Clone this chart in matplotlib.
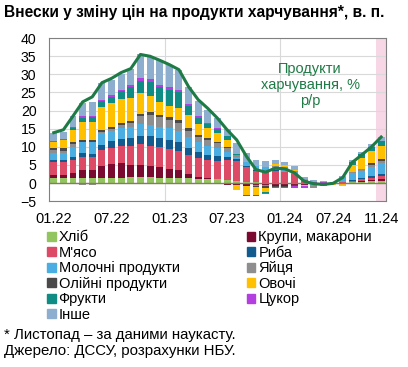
import numpy as np
import matplotlib
matplotlib.use("Agg")
import matplotlib.pyplot as plt
from matplotlib.patches import Patch

plt.rcParams['font.family'] = ['Liberation Sans', 'DejaVu Sans']

# DATA
months = ['01.22', '02.22', '03.22', '04.22', '05.22', '06.22', '07.22', '08.22', '09.22', '10.22', '11.22', '12.22',
          '01.23', '02.23', '03.23', '04.23', '05.23', '06.23', '07.23', '08.23', '09.23', '10.23', '11.23', '12.23',
          '01.24', '02.24', '03.24', '04.24', '05.24', '06.24', '07.24', '08.24', '09.24', '10.24', '11.24']
tick_labels = ['01.22', '07.22', '01.23', '07.23', '01.24', '07.24', '11.24']

food_yoy = [13.9, 14.7, 18.5, 22.4, 23.8, 27.7, 28.9, 30.5, 31.6, 35.5, 35.0, 33.9, 32.7, 31.3, 26.6, 23.0, 20.6,
            17.9, 14.7, 11.9, 7.4, 3.7, 3.0, 4.1, 3.9, 2.8, 0.5, -0.2, -0.4, -0.1, 1.5, 5.7, 7.8, 10.0, 12.7]

bread = [1.4, 1.3, 1.3, 1.3, 1.3, 1.5, 1.5, 1.5, 1.6, 1.6, 1.6, 1.5, 1.5, 1.5, 1.4, 1.2, 1.1, 1.0, 0.8, 0.6, 0.4,
         0.2, 0.1, 0.0, 0.0, -0.1, -0.1, -0.1, 0.0, 0.0, 0.1, 0.3, 0.4, 0.5, 0.6]
cereals = [0.9, 1.0, 1.5, 2.4, 2.2, 3.3, 3.8, 3.9, 3.5, 3.5, 3.2, 2.8, 2.3, 2.0, 1.0, 0.5, 0.2, -0.3, -0.6, -0.5,
           -0.7, -0.5, -0.6, -0.7, -0.7, -0.5, -0.4, -0.2, -0.1, 0.0, 0.0, 0.0, 0.1, 0.3, 0.5]
meat = [3.4, 3.5, 3.6, 3.5, 3.6, 4.2, 4.5, 4.8, 5.2, 5.7, 5.3, 5.6, 5.6, 5.4, 5.2, 5.3, 5.0, 5.2, 5.5, 5.5, 4.1,
        3.2, 3.0, 3.4, 3.0, 2.5, 0.8, 0.0, 0.0, 0.0, 0.2, 0.3, 0.5, 0.6, 0.8]
fish = [0.7, 0.6, 0.7, 1.1, 1.0, 1.4, 1.7, 2.0, 2.2, 2.3, 2.8, 2.5, 2.4, 2.3, 2.1, 1.7, 1.5, 1.3, 0.8, 0.4, 0.2,
        0.1, 0.1, 0.1, 0.1, 0.0, 0.0, 0.0, 0.0, 0.0, 0.1, 0.3, 0.4, 0.5, 0.6]
dairy = [2.0, 1.9, 2.8, 3.0, 3.2, 3.3, 3.0, 3.0, 3.0, 3.3, 3.2, 3.2, 3.3, 3.2, 3.0, 2.6, 2.3, 2.1, 1.5, 0.8, 1.0,
         1.2, 1.3, 1.0, 1.0, 0.7, 0.3, -0.6, -0.3, 0.2, 1.2, 1.8, 2.0, 2.6, 3.0]
eggs = [0.7, 0.6, 0.8, -0.6, -0.6, 0.4, 0.5, 0.8, 1.2, 2.0, 2.7, 2.5, 2.4, 2.2, 1.8, 1.5, 1.8, 1.5, 1.0, 0.3, 0.0,
        -0.4, -0.3, 0.2, 0.3, 0.2, 0.1, -0.4, -0.4, -0.3, -0.3, 0.3, 0.4, 0.6, 0.7]
oils = [0.7, 0.8, 0.6, 0.6, 0.5, 0.5, 0.4, 0.5, 0.5, 0.6, 0.7, 0.7, 0.7, 0.7, 0.6, 0.5, 0.4, 0.3, 0.3, 0.1, -0.2,
        -0.3, -0.4, -0.4, -0.3, -0.2, -0.1, 0.0, 0.0, 0.0, 0.0, 0.1, 0.2, 0.3, 0.4]
vegetables = [1.4, 2.2, 3.4, 4.9, 5.0, 6.5, 6.8, 6.8, 6.4, 5.8, 4.6, 3.6, 3.2, 3.5, 3.6, 3.0, 2.8, 2.5, 2.0, -1.5,
              -2.3, -2.0, -1.2, 0.5, 0.6, 0.2, -0.3, 0.0, 0.0, -0.3, -0.6, 2.0, 3.0, 3.5, 3.6]
fruits = [-0.4, -0.4, 0.5, 1.2, 1.3, 1.5, 1.6, 2.0, 3.0, 3.5, 3.9, 4.1, 4.3, 4.2, 2.7, 1.6, 1.2, 0.9, 1.0, 0.3, -0.3,
          -0.3, -0.2, 0.0, 0.0, 0.0, 0.0, 0.0, 0.0, 0.0, 0.1, 0.6, 0.9, 1.0, 1.3]
sugar = [0.3, 0.3, 0.4, 0.5, 0.4, 0.4, 0.5, 0.5, 0.6, 0.8, 0.6, 0.6, 0.7, 0.7, 0.5, 0.5, 0.4, 0.3, 0.2, 0.1, 0.0,
         -0.1, -0.2, -0.3, -0.4, -0.6, -0.4, 0.4, 0.3, 0.0, 0.0, -0.3, 0.0, 0.1, 0.1]
other = [2.3, 2.0, 2.9, 3.7, 4.0, 4.5, 4.1, 4.3, 4.2, 6.5, 6.2, 6.8, 6.3, 5.6, 4.7, 4.3, 3.6, 2.8, 1.8, 3.0, 2.5,
         1.6, 1.5, 1.1, 0.9, 1.0, 0.4, 0.4, 0.3, 0.2, 0.3, 0.6, 0.6, 0.8, 1.0]

series = [
    ('Хліб', bread, '#92c55f'),
    ('Крупи, макарони', cereals, '#7a0a30'),
    ("М'ясо", meat, '#dc4a66'),
    ('Риба', fish, '#115b8f'),
    ('Молочні продукти', dairy, '#4aaee2'),
    ('Яйця', eggs, '#8e8e8e'),
    ('Олійні продукти', oils, '#4a4a4a'),
    ('Овочі', vegetables, '#ffc000'),
    ('Фрукти', fruits, '#0f8c84'),
    ('Цукор', sugar, '#b43fe0'),
    ('Інше', other, '#8eaed0'),
]

fig = plt.figure(figsize=(4.08, 3.67), dpi=100)
ax = fig.add_axes([0.120, 0.452, 0.826, 0.444])

x = np.arange(len(months))
pos_bottom = np.zeros(len(months))
neg_bottom = np.zeros(len(months))

ax.axvspan(33.5, 34.5, color='#f7d6e6', zorder=0, lw=0)

for name, vals, col in series:
    v = np.array(vals)
    pos = np.where(v > 0, v, 0)
    neg = np.where(v < 0, v, 0)
    ax.bar(x, pos, 0.72, bottom=pos_bottom, color=col, zorder=2, lw=0)
    ax.bar(x, neg, 0.72, bottom=neg_bottom, color=col, zorder=2, lw=0)
    pos_bottom += pos
    neg_bottom += neg

ax.plot(x, food_yoy, color='#1e7b45', lw=2.2, zorder=4)
ax.axhline(0, color='#8a7a60', lw=1, zorder=3)

ax.set_xlim(-0.5, 34.5)
ax.set_ylim(-5, 40)
ax.set_yticks(np.arange(-5, 41, 5))
ax.set_xticks([0, 6, 12, 18, 24, 29.1, 34])
ax.set_xticklabels(tick_labels)
ax.tick_params(length=0, labelsize=10.5)
ax.tick_params(axis='x', pad=8)
ax.tick_params(axis='y', pad=9, labelsize=10.2)
ax.grid(axis='y', color='#d9d9d9', lw=0.8, zorder=0)
for xv in [11.5, 23.5]:
    ax.axvline(xv, color='#d9d9d9', lw=0.8, zorder=0)
for s in ax.spines.values():
    s.set_color('#808080')
    s.set_linewidth(0.8)

ax.text(0.775, 0.712, 'Продукти\nхарчування, %\nр/р', transform=ax.transAxes, ha='center', va='center',
        color='#1e7b45', fontsize=10.5, linespacing=1.15)

fig.text(0.01, 0.967, 'Внески у зміну цін на продукти харчування*, в. п.', fontsize=11.2,
         fontweight='bold', va='center', ha='left')

# legend, row-wise order in two columns
left = [0, 2, 4, 6, 8, 10]
right = [1, 3, 5, 7, 9]
handles = [Patch(color=series[i][2], label=series[i][0]) for i in left + right]
fig.legend(handles=handles, ncol=2, loc='upper left', bbox_to_anchor=(0.115, 0.372), frameon=False,
           fontsize=10.5, handlelength=0.6, handleheight=0.6, handletextpad=0.2, labelspacing=0.1,
           columnspacing=4.6, borderpad=0, borderaxespad=0)

fig.text(0.01, 0.087, '* Листопад – за даними наукасту.', fontsize=10.8, va='center')
fig.text(0.01, 0.044, 'Джерело: ДССУ, розрахунки НБУ.', fontsize=10.8, va='center')

fig.savefig('out.png', dpi=100)
